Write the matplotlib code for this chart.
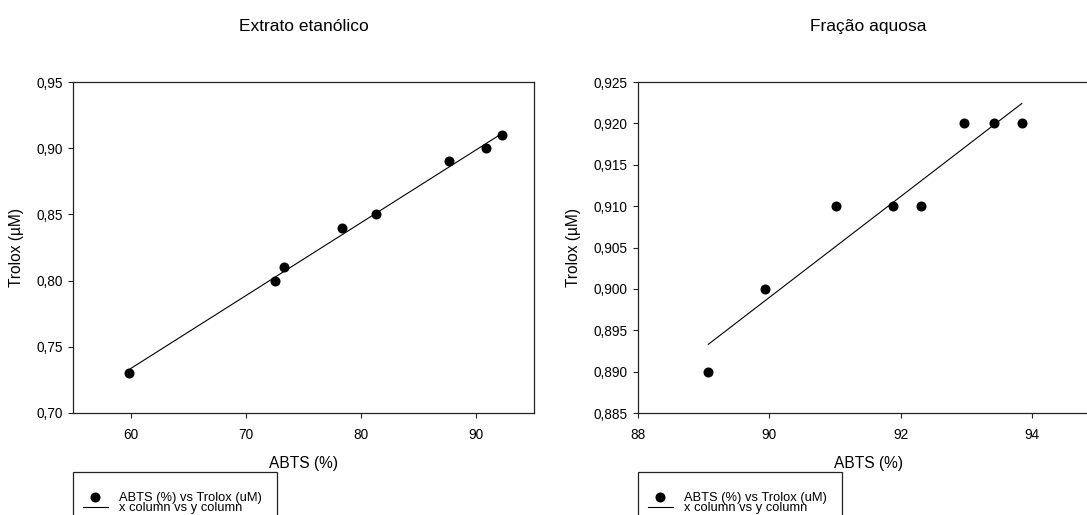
"""
Regressão ABTS (%) x Trolox (µM) — extrato etanólico e fração aquosa.
"""
import numpy as np
import matplotlib
matplotlib.use("Agg")
import matplotlib.pyplot as plt
from matplotlib.patches import Rectangle
from matplotlib.ticker import FuncFormatter

plt.rcParams["font.family"] = ["Liberation Sans", "DejaVu Sans"]

# dados
etanol_abts = [59.9, 72.5, 73.3, 78.3, 81.3, 87.6, 90.8, 92.2]
etanol_trolox = [0.73, 0.80, 0.81, 0.84, 0.85, 0.89, 0.90, 0.91]
etanol_fit_x = [59.9, 92.2]
etanol_fit_y = [0.733, 0.911]

aquosa_abts = [89.07, 89.94, 91.02, 91.88, 92.31, 92.96, 93.41, 93.84]
aquosa_trolox = [0.890, 0.900, 0.910, 0.910, 0.910, 0.920, 0.920, 0.920]
aquosa_fit_x = [89.07, 93.84]
aquosa_fit_y = [0.8933, 0.9224]

titles = ["Extrato etanólico", "Fração aquosa"]
xlims = [(55, 95), (88, 95)]
ylims = [(0.70, 0.95), (0.885, 0.925)]
xticks = [[60, 70, 80, 90], [88, 90, 92, 94]]
yticks = [np.arange(0.70, 0.951, 0.05), np.arange(0.885, 0.9251, 0.005)]
ydec = [2, 3]

W, H = 1087, 515
fig = plt.figure(figsize=(W / 100, H / 100), dpi=100)

# posição dos eixos em pixels (esq, topo, dir, base)
boxes = [(73, 82, 534, 413), (638, 82, 1098, 413)]

series = [
    (etanol_abts, etanol_trolox, etanol_fit_x, etanol_fit_y),
    (aquosa_abts, aquosa_trolox, aquosa_fit_x, aquosa_fit_y),
]

for i, (x, y, fx, fy) in enumerate(series):
    l, t, r, b = boxes[i]
    ax = fig.add_axes([l / W, 1 - b / H, (r - l) / W, (b - t) / H])
    pts, = ax.plot(x, y, "o", color="black", ms=6.2, label="ABTS (%) vs Trolox (uM)")
    ln, = ax.plot(fx, fy, "-", color="black", lw=0.8, label="x column vs y column")
    ax.set_xlim(*xlims[i])
    ax.set_ylim(*ylims[i])
    ax.set_xticks(xticks[i])
    ax.set_yticks(yticks[i])
    d = ydec[i]
    ax.yaxis.set_major_formatter(FuncFormatter(lambda v, p, d=d: f"{v:.{d}f}".replace(".", ",")))
    ax.tick_params(direction="out", length=3.5, width=0.8, labelsize=9.8, color="#222222")
    ax.tick_params(axis="x", pad=7.5)
    ax.tick_params(axis="y", pad=4)
    for s in ax.spines.values():
        s.set_linewidth(0.9)
        s.set_color("#222222")
    ax.set_xlabel("ABTS (%)", fontsize=11.2, labelpad=10)
    ax.set_ylabel("Trolox (µM)", fontsize=11.2, labelpad=9)
    ax.set_title(titles[i], fontsize=12.5, pad=36.5)

    # legenda estilo SigmaPlot, caixa cortada na base da figura
    fig.add_artist(Rectangle((l / W, -0.05), 204 / W, 0.05 + (H - 472) / H,
                             transform=fig.transFigure, fill=False,
                             lw=0.9, edgecolor="#222222"))
    fig.legend(handles=[pts, ln], loc="upper left",
               bbox_to_anchor=((l + 9.5) / W, 1 - 492 / H),
               frameon=False, fontsize=9.3, borderpad=0, borderaxespad=0,
               handlelength=2.0, handletextpad=0.85, labelspacing=-0.15)

fig.savefig("out.png", dpi=100)
